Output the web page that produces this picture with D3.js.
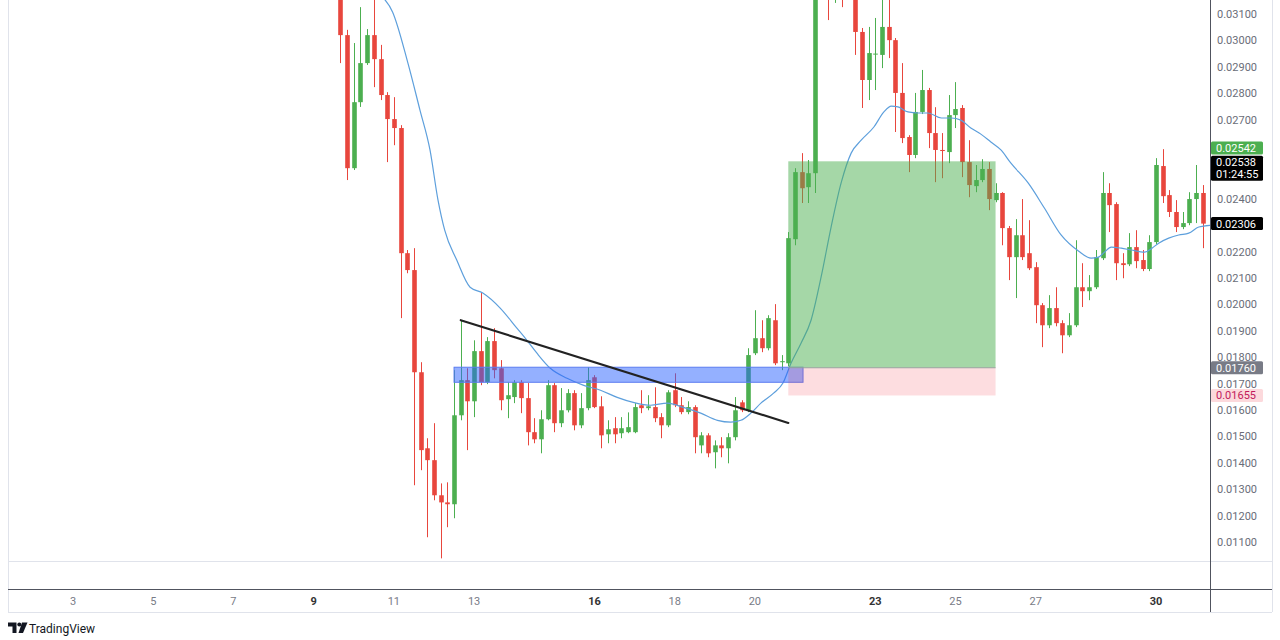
<!DOCTYPE html>
<html><head><meta charset="utf-8">
<script src="https://cdn.jsdelivr.net/npm/d3@7"></script>
<style>html,body{margin:0;padding:0;background:#fff;} svg{display:block;font-family:Roboto,"Liberation Sans",Arial,sans-serif;}</style>
</head><body><svg id="c" width="1280" height="640"></svg>
<script>
// ---------- DATA ----------
const startTime = 9 + 4/6;      // first candle: day 9, 16:00 (4h candles)
const candleStep = 1/6;
const opens = [0.03170,0.03020,0.02516,0.02766,0.02914,0.03020,0.02929,0.02793,0.02702,0.02668,
0.02194,0.02130,0.01743,0.01455,0.01410,0.01277,0.01250,0.01243,0.01580,0.01713,
0.01633,0.01823,0.01705,0.01861,0.01758,0.01641,0.01649,0.01705,0.01645,0.01516,
0.01489,0.01565,0.01694,0.01550,0.01599,0.01664,0.01542,0.01607,0.01724,0.01614,
0.01508,0.01531,0.01512,0.01516,0.01516,0.01618,0.01607,0.01611,0.01573,0.01542,
0.01675,0.01618,0.01592,0.01611,0.01466,0.01504,0.01440,0.01466,0.01455,0.01497,
0.01629,0.01599,0.01815,0.01872,0.01834,0.01940,0.01781,0.01777,0.02247,0.02501,
0.02444,0.02497,0.03200,0.03250,0.03180,0.03220,0.03190,0.03200,0.03032,0.02850,
0.02948,0.02945,0.03051,0.03001,0.02801,0.02634,0.02566,0.02729,0.02812,0.02649,
0.02585,0.02577,0.02717,0.02744,0.02539,0.02448,0.02471,0.02513,0.02395,0.02422,
0.02289,0.02179,0.02262,0.02194,0.02141,0.01997,0.01921,0.01986,0.01929,0.01883,
0.01921,0.02065,0.02050,0.02065,0.02175,0.02422,0.02380,0.02156,0.02152,0.02217,
0.02168,0.02134,0.02236,0.02524,0.02414,0.02350,0.02293,0.02308,0.02399,0.02422];
const highs = [0.03200,0.03040,0.02990,0.03126,0.03043,0.03160,0.02983,0.02804,0.02785,0.02679,
0.02206,0.02213,0.01781,0.01493,0.01550,0.01322,0.01326,0.01751,0.01940,0.01758,
0.01864,0.02043,0.01876,0.01910,0.01789,0.01705,0.01713,0.01713,0.01702,0.01569,
0.01599,0.01713,0.01702,0.01683,0.01679,0.01675,0.01664,0.01762,0.01732,0.01652,
0.01561,0.01573,0.01573,0.01591,0.01626,0.01675,0.01656,0.01686,0.01588,0.01675,
0.01739,0.01649,0.01633,0.01618,0.01516,0.01512,0.01485,0.01497,0.01512,0.01649,
0.01637,0.01834,0.01978,0.01940,0.01959,0.02001,0.01808,0.02274,0.02516,0.02573,
0.02547,0.03260,0.03350,0.03300,0.03260,0.03250,0.03250,0.03230,0.03047,0.03051,
0.03085,0.03170,0.03160,0.03009,0.02914,0.02641,0.02801,0.02888,0.02820,0.02747,
0.02649,0.02793,0.02842,0.02755,0.02622,0.02528,0.02550,0.02539,0.02459,0.02425,
0.02297,0.02323,0.02399,0.02319,0.02160,0.02005,0.02035,0.02065,0.01940,0.01967,
0.02243,0.02156,0.02111,0.02206,0.02501,0.02459,0.02387,0.02194,0.02270,0.02281,
0.02206,0.02262,0.02554,0.02588,0.02433,0.02395,0.02350,0.02425,0.02528,0.02452];
const lows = [0.02914,0.02471,0.02509,0.02748,0.02907,0.02823,0.02774,0.02539,0.02603,0.01948,
0.02118,0.01315,0.01372,0.01118,0.01258,0.01038,0.01156,0.01190,0.01561,0.01448,
0.01573,0.01694,0.01698,0.01720,0.01599,0.01569,0.01626,0.01588,0.01466,0.01474,
0.01436,0.01561,0.01516,0.01535,0.01591,0.01523,0.01531,0.01599,0.01607,0.01455,
0.01474,0.01474,0.01493,0.01512,0.01512,0.01588,0.01599,0.01554,0.01493,0.01535,
0.01611,0.01584,0.01584,0.01436,0.01436,0.01421,0.01379,0.01421,0.01398,0.01485,
0.01592,0.01592,0.01808,0.01819,0.01826,0.01770,0.01751,0.01766,0.02224,0.02384,
0.02384,0.02422,0.03160,0.03077,0.03142,0.03126,0.03160,0.02945,0.02744,0.02774,
0.02812,0.02895,0.02933,0.02653,0.02611,0.02501,0.02554,0.02721,0.02592,0.02463,
0.02478,0.02535,0.02668,0.02482,0.02406,0.02425,0.02463,0.02357,0.02387,0.02224,
0.02092,0.02024,0.02168,0.02130,0.01929,0.01838,0.01910,0.01917,0.01815,0.01876,
0.01914,0.01990,0.02016,0.02058,0.02168,0.02274,0.02092,0.02099,0.02145,0.02137,
0.02126,0.02126,0.02228,0.02384,0.02331,0.02274,0.02285,0.02300,0.02308,0.02213];
const closes = [0.03020,0.02516,0.02766,0.02914,0.03020,0.02929,0.02793,0.02702,0.02668,0.02194,
0.02130,0.01743,0.01448,0.01410,0.01277,0.01250,0.01243,0.01580,0.01713,0.01633,
0.01823,0.01705,0.01861,0.01751,0.01637,0.01656,0.01705,0.01645,0.01516,0.01489,
0.01565,0.01694,0.01550,0.01599,0.01664,0.01542,0.01607,0.01713,0.01611,0.01504,
0.01527,0.01508,0.01531,0.01535,0.01611,0.01607,0.01614,0.01569,0.01542,0.01667,
0.01618,0.01592,0.01611,0.01497,0.01504,0.01436,0.01466,0.01455,0.01497,0.01599,
0.01599,0.01808,0.01872,0.01834,0.01948,0.01777,0.01785,0.02251,0.02501,0.02440,
0.02497,0.03200,0.03250,0.03180,0.03220,0.03190,0.03200,0.03032,0.02850,0.02952,
0.02950,0.03051,0.03001,0.02801,0.02630,0.02566,0.02729,0.02812,0.02649,0.02585,
0.02581,0.02717,0.02740,0.02539,0.02452,0.02471,0.02513,0.02399,0.02422,0.02289,
0.02179,0.02262,0.02179,0.02137,0.01997,0.01921,0.01986,0.01929,0.01883,0.01921,
0.02065,0.02050,0.02065,0.02179,0.02422,0.02376,0.02156,0.02149,0.02217,0.02164,
0.02134,0.02236,0.02528,0.02410,0.02350,0.02293,0.02308,0.02399,0.02422,0.02306];
// moving average line (candle index, value)
const maIndex = [6,7.8,10.1,11.9,13.4,14.6,15.6,17.4,19.4,21.3,23.9,26.4,27.9,29.4,31.4,33.9,36.3,38.9,41.4,43.8,46.4,48.9,51.3,53.9,56.4,58.4,59.9,61.4,62.9,64.8,66.2,67.4,68.9,70.4,71.9,73.4,74.9,76.4,77.9,79.8,81.3,82.4,83.4,84.9,86.4,87.9,89.9,91.4,92.8,94.3,95.8,97.3,98.8,100.3,102.9,105.3,107.8,110.4,112.3,113.4,114.3,115.3,116.8,118.3,120.3,121.4,122.4,123.9,125.4,126.9,128.4,130.3];
const maValues = [0.03172,0.03108,0.02914,0.02736,0.02585,0.02395,0.02281,0.02168,0.02065,0.02043,0.01986,0.01910,0.01864,0.01815,0.01758,0.01720,0.01694,0.01675,0.01648,0.01629,0.01618,0.01626,0.01610,0.01588,0.01561,0.01554,0.01561,0.01588,0.01626,0.01664,0.01702,0.01777,0.01853,0.01940,0.02103,0.02293,0.02460,0.02573,0.02622,0.02672,0.02729,0.02751,0.02748,0.02729,0.02725,0.02725,0.02706,0.02706,0.02698,0.02668,0.02645,0.02615,0.02585,0.02535,0.02459,0.02365,0.02263,0.02202,0.02175,0.02179,0.02198,0.02217,0.02213,0.02206,0.02198,0.02213,0.02232,0.02251,0.02263,0.02270,0.02293,0.02300];
// time axis ticks (day of month)
const dayTicks = [3,5,7,9,11,13,16,18,20,23,25,27,30];
const boldDays = [9,16,23,30];
// price axis ticks (labels hidden under price tags are omitted)
const priceTicks = [0.011,0.012,0.013,0.014,0.015,0.016,0.017,0.018,0.019,0.020,0.021,0.022,0.024,0.027,0.028,0.029,0.030,0.031];
// drawings
const zoneTime = [12.5, 21.2];            // blue zone
const zonePrice = [0.01705, 0.01762];
const trendTime = [12.667, 20.833];       // trend line
const trendPrice = [0.01940, 0.01551];
const posTime = [20.833, 26.0];           // long position tool
const posEntry = 0.01760, posTarget = 0.02542, posStop = 0.01655;
// price tags on axis
const tags = [
  {text:["0.02542"], price:0.02592, bg:"#4caf50", fg:"#ffffff"},
  {text:["0.02538","01:24:55"], price:0.02538, bg:"#000000", fg:"#ffffff"},
  {text:["0.02306"], price:0.02306, bg:"#000000", fg:"#ffffff"},
  {text:["0.01760"], price:0.01760, bg:"#787b86", fg:"#ffffff"},
  {text:["0.01655"], price:0.01655, bg:"#fcd9dc", fg:"#c2185b"}
];

// ---------- LAYOUT ----------
const svg = d3.select("#c");
const plotL = 8, plotR = 1210, plotT = 0, plotB = 561;
const x = d3.scaleLinear().domain([3, 30]).range([73, 1156]);
const y = d3.scaleLinear().domain([0.011, 0.031]).range([542, 14]);
const green = "#4caf50", red = "#e8463d";

svg.append("rect").attr("width",1280).attr("height",640).attr("fill","#fff");
svg.append("defs").append("clipPath").attr("id","plot").append("rect")
  .attr("x",plotL).attr("y",plotT).attr("width",plotR-plotL).attr("height",plotB-plotT);

const g = svg.append("g").attr("clip-path","url(#plot)");

const candles = opens.map((o,i)=>({t:startTime+i*candleStep,o,h:highs[i],l:lows[i],c:closes[i]}));
const bw = 4.6;
const cg = g.append("g");
cg.selectAll("line").data(candles).join("line")
  .attr("x1",d=>Math.round(x(d.t))+0.5).attr("x2",d=>Math.round(x(d.t))+0.5)
  .attr("y1",d=>y(d.h)).attr("y2",d=>y(d.l))
  .attr("stroke",d=>d.c>=d.o?green:red).attr("stroke-width",1);
cg.selectAll("rect").data(candles).join("rect")
  .attr("x",d=>Math.round(x(d.t))+0.5-bw/2).attr("width",bw)
  .attr("y",d=>y(Math.max(d.o,d.c)))
  .attr("height",d=>Math.max(1,Math.abs(y(d.o)-y(d.c))))
  .attr("fill",d=>d.c>=d.o?green:red);

// MA line
const ma = maIndex.map((k,i)=>({t:startTime+k*candleStep,v:maValues[i]}));
g.append("path").datum(ma)
  .attr("d",d3.line().x(d=>x(d.t)).y(d=>y(d.v)).curve(d3.curveMonotoneX))
  .attr("fill","none").attr("stroke","#5d9fdc").attr("stroke-width",1.2);

// blue zone
g.append("rect")
  .attr("x",x(zoneTime[0])).attr("width",x(zoneTime[1])-x(zoneTime[0]))
  .attr("y",y(zonePrice[1])).attr("height",y(zonePrice[0])-y(zonePrice[1]))
  .attr("fill","rgba(41,98,255,0.5)").attr("stroke","#5b7cf0").attr("stroke-width",1);

// position tool
g.append("rect")
  .attr("x",x(posTime[0])).attr("width",x(posTime[1])-x(posTime[0]))
  .attr("y",y(posTarget)).attr("height",y(posEntry)-y(posTarget))
  .attr("fill","rgba(76,175,80,0.5)");
g.append("rect")
  .attr("x",x(posTime[0])).attr("width",x(posTime[1])-x(posTime[0]))
  .attr("y",y(posEntry)).attr("height",y(posStop)-y(posEntry))
  .attr("fill","rgba(242,54,69,0.17)");
g.append("line")
  .attr("x1",x(posTime[0])).attr("x2",x(posTime[1]))
  .attr("y1",y(posEntry)).attr("y2",y(posEntry))
  .attr("stroke","#9aa3a0").attr("stroke-width",1);

// trend line
g.append("line")
  .attr("x1",x(trendTime[0])).attr("y1",y(trendPrice[0]))
  .attr("x2",x(trendTime[1])).attr("y2",y(trendPrice[1]))
  .attr("stroke","#222").attr("stroke-width",2.2).attr("stroke-linecap","round");

// ---------- FRAME ----------
const light = "#e0e3eb";
svg.append("line").attr("x1",plotL+0.5).attr("x2",plotL+0.5).attr("y1",0).attr("y2",612).attr("stroke",light);
svg.append("line").attr("x1",1272.5).attr("x2",1272.5).attr("y1",0).attr("y2",612).attr("stroke",light);
svg.append("line").attr("x1",plotL).attr("x2",1272).attr("y1",561.5).attr("y2",561.5).attr("stroke",light);
svg.append("line").attr("x1",plotL).attr("x2",1272).attr("y1",612.5).attr("y2",612.5).attr("stroke",light);
svg.append("line").attr("x1",plotL).attr("x2",1272).attr("y1",589.5).attr("y2",589.5).attr("stroke","#50535e");
svg.append("line").attr("x1",1210.5).attr("x2",1210.5).attr("y1",0).attr("y2",612).attr("stroke","#50535e");

// price axis
const ya = svg.append("g");
ya.selectAll("text").data(priceTicks).join("text")
  .attr("x",1217).attr("y",d=>y(d)+4)
  .attr("font-size",11).attr("fill","#6a6d78")
  .text(d=>d.toFixed(5));

// tags
tags.forEach(tg=>{
  const h = tg.text.length===1 ? 13 : 25;
  const top = y(tg.price) - 6.5;
  ya.append("rect").attr("x",1211).attr("y",top).attr("width",52).attr("height",h).attr("rx",1.5).attr("fill",tg.bg);
  tg.text.forEach((s,j)=>{
    ya.append("text").attr("x",1216).attr("y",top+10.5+j*12).attr("font-size",11).attr("fill",tg.fg).text(s);
  });
});

// time axis
svg.append("g").selectAll("text").data(dayTicks).join("text")
  .attr("x",d=>x(d)).attr("y",605).attr("text-anchor","middle")
  .attr("font-size",11)
  .attr("font-weight",d=>boldDays.includes(d)?"bold":"normal")
  .attr("fill",d=>boldDays.includes(d)?"#333":"#787b86")
  .text(d=>d);

// TradingView logo
const lg = svg.append("g").attr("fill","#131722");
lg.append("path").attr("d","M8,622.5 H16.5 V633 H12.5 V626.5 H8 Z");
lg.append("circle").attr("cx",19.3).attr("cy",624.5).attr("r",2);
lg.append("path").attr("d","M22,622.5 H27.5 L23,633 H18.5 Z");
svg.append("text").attr("x",29).attr("y",632.5).attr("font-size",12).attr("fill","#131722").text("TradingView");
</script></body></html>
